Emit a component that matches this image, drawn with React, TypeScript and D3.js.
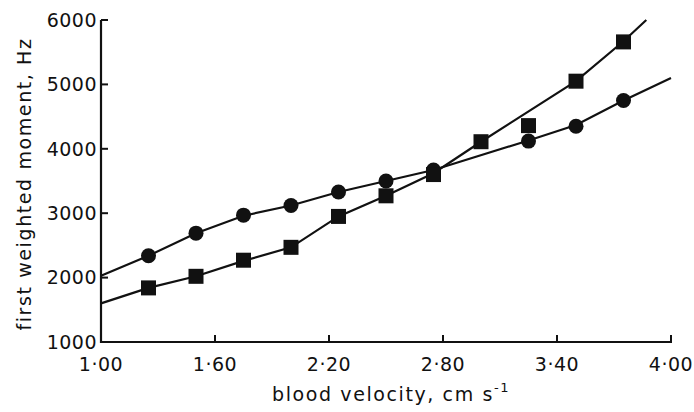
import React from "react";
import * as d3 from "d3";

const xTicks = [1.0, 1.6, 2.2, 2.8, 3.4, 4.0];
const xTickLabels = ["1·00", "1·60", "2·20", "2·80", "3·40", "4·00"];
const yTicks = [1000, 2000, 3000, 4000, 5000, 6000];
const yTickLabels = ["1000", "2000", "3000", "4000", "5000", "6000"];

// circles series
const circleX = [1.25, 1.5, 1.75, 2.0, 2.25, 2.5, 2.75, 3.25, 3.5, 3.75];
const circleY = [2340, 2690, 2970, 3120, 3330, 3500, 3670, 4120, 4350, 4750];
// fitted line through circles
const circleLineX = [1.0, 1.25, 1.5, 1.75, 2.0, 2.25, 2.5, 2.75, 3.25, 3.5, 3.75, 4.0];
const circleLineY = [2030, 2340, 2690, 2960, 3120, 3330, 3500, 3670, 4130, 4370, 4750, 5100];

// squares series
const squareX = [1.25, 1.5, 1.75, 2.0, 2.25, 2.5, 2.75, 3.0, 3.25, 3.5, 3.75];
const squareY = [1840, 2020, 2270, 2470, 2950, 3270, 3600, 4110, 4360, 5050, 5660];
// fitted line through squares
const squareLineX = [1.0, 1.25, 1.5, 1.75, 2.0, 2.25, 2.5, 2.75, 3.0, 3.5, 3.75, 3.87];
const squareLineY = [1600, 1840, 2020, 2260, 2470, 2950, 3270, 3620, 4110, 5050, 5670, 6000];

const xLabel = "blood velocity, cm s";
const yLabel = "first weighted moment, Hz";

export default function App() {
  const W = 694, H = 412;
  const x = d3.scaleLinear().domain([1, 4]).range([101, 671]);
  const y = d3.scaleLinear().domain([1000, 6000]).range([342, 20]);
  const line = d3.line<[number, number]>().x(d => x(d[0])).y(d => y(d[1]));
  const cLine = line(circleLineX.map((v, i) => [v, circleLineY[i]]) as [number, number][]) || "";
  const sLine = line(squareLineX.map((v, i) => [v, squareLineY[i]]) as [number, number][]) || "";
  const font = "'DejaVu Sans', sans-serif";
  const sq = 15;
  const ink = "#111";
  return (
    <svg width={W} height={H} style={{ position: "absolute", left: 0, top: 0, background: "#fff" }}>
      <rect x={0} y={0} width={W} height={H} fill="#fff" />
      {/* axes */}
      <line x1={x(1) - 1} x2={x(4) + 1} y1={y(1000)} y2={y(1000)} stroke={ink} strokeWidth={2.2} />
      <line x1={x(1)} x2={x(1)} y1={y(1000) + 1} y2={y(6000)} stroke={ink} strokeWidth={2.2} />
      {xTicks.map((t, i) => (
        <g key={"xt" + i}>
          <line x1={x(t)} x2={x(t)} y1={y(1000)} y2={y(1000) - 7} stroke={ink} strokeWidth={2} />
          <text x={x(t)} y={371} textAnchor="middle" fontFamily={font} fontSize={19} fill={ink} letterSpacing={0.5}>
            {xTickLabels[i]}
          </text>
        </g>
      ))}
      {yTicks.map((t, i) => (
        <g key={"yt" + i}>
          <line x1={x(1)} x2={x(1) + 7} y1={y(t)} y2={y(t)} stroke={ink} strokeWidth={2} />
          <text x={97} y={y(t)} dy="0.36em" textAnchor="end" fontFamily={font} fontSize={19} fill={ink} letterSpacing={0.5}>
            {yTickLabels[i]}
          </text>
        </g>
      ))}
      {/* titles */}
      <text x={272} y={401} fontFamily={font} fontSize={19} fill={ink} letterSpacing={1.6}>
        {xLabel}
        <tspan fontSize={13} dy={-9}>-1</tspan>
      </text>
      <text transform={`translate(31,${(38 + 330) / 2}) rotate(-90)`} textAnchor="middle" fontFamily={font} fontSize={19} fill={ink} letterSpacing={1.6}>
        {yLabel}
      </text>
      {/* lines */}
      <path d={cLine} fill="none" stroke={ink} strokeWidth={2.2} />
      <path d={sLine} fill="none" stroke={ink} strokeWidth={2.2} />
      {/* markers */}
      {circleX.map((v, i) => (
        <circle key={"c" + i} cx={x(v)} cy={y(circleY[i])} r={7.5} fill={ink} />
      ))}
      {squareX.map((v, i) => (
        <rect key={"s" + i} x={x(v) - sq / 2} y={y(squareY[i]) - sq / 2} width={sq} height={sq} fill={ink} />
      ))}
    </svg>
  );
}
